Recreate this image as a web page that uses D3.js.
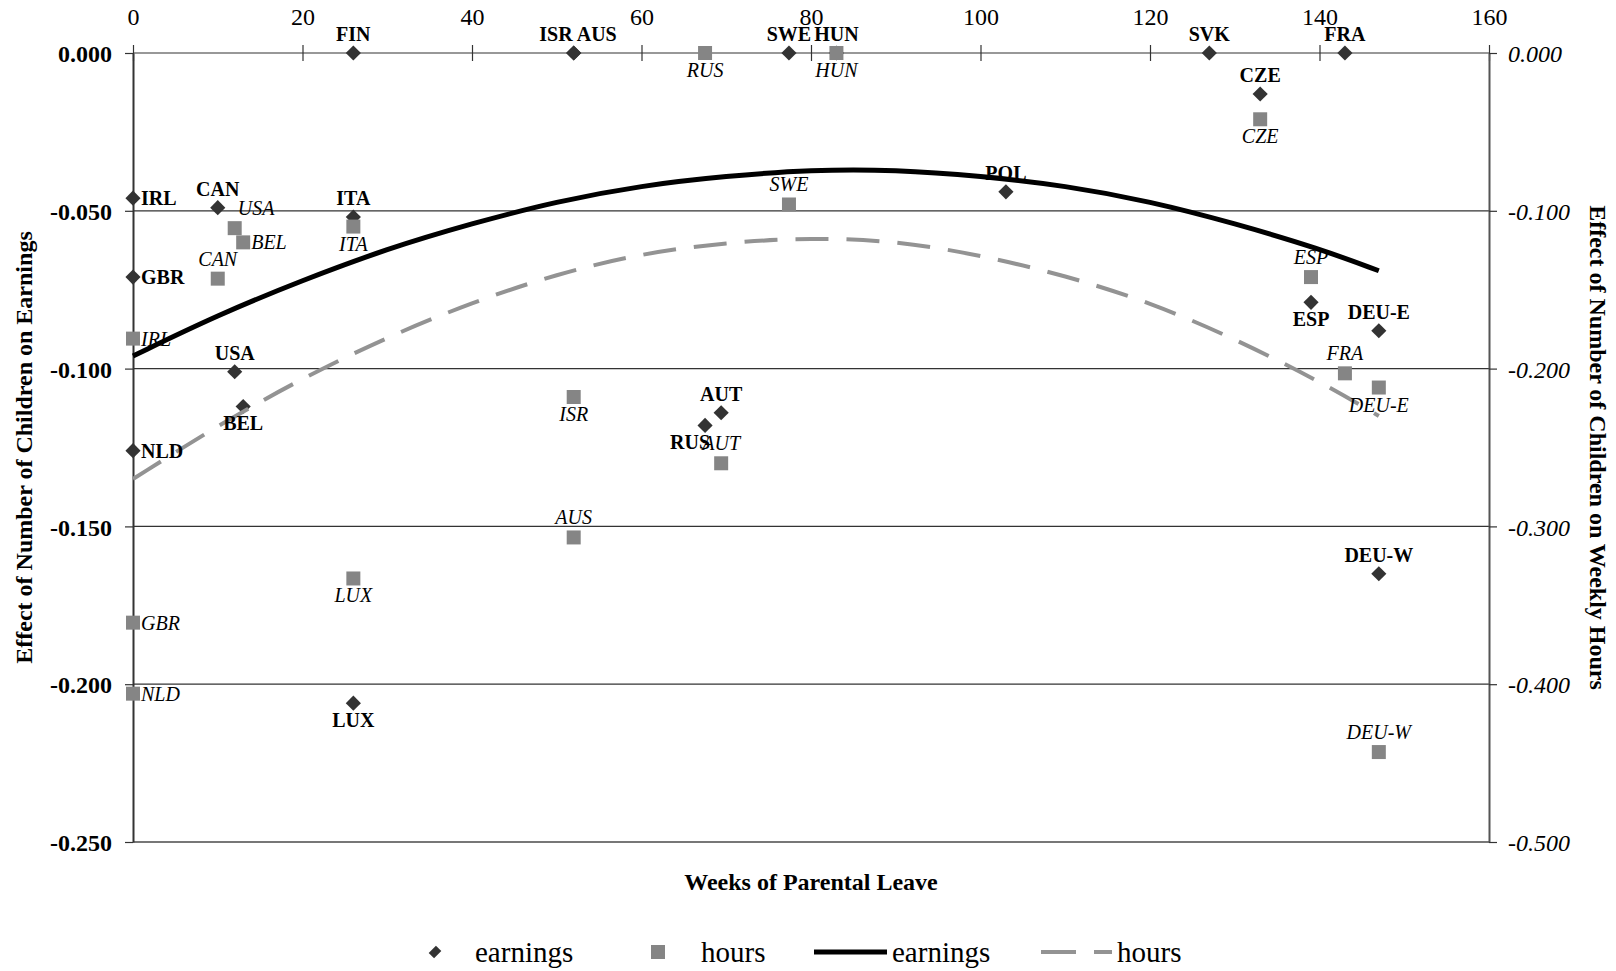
<!DOCTYPE html>
<html lang="en">
<head>
  <meta charset="utf-8">
  <title>Parental leave and the effect of children</title>
  <style>
    body { margin: 0; background: #fff; }
    svg { display: block; }
  </style>
</head>
<body>
  <script src="https://d3js.org/d3.v7.min.js"></script>
  <script>
    var width = 1616;
    var height = 971;
    var margin = { top: 53, right: 127, bottom: 129, left: 133 };
    var font = "'Liberation Serif', 'Times New Roman', serif";

    // earnings effect (left axis), one diamond per country
    var earnCountry = ["IRL", "GBR", "NLD", "CAN", "USA", "BEL", "FIN", "ITA", "LUX", "ISR", "AUS",
                       "RUS", "AUT", "SWE", "HUN", "POL", "SVK", "CZE", "ESP", "FRA", "DEU-E", "DEU-W"];
    var earnWeeks   = [0, 0, 0, 10, 12, 13, 26, 26, 26, 52, 52,
                       67.5, 69.4, 77.4, 83, 103, 127, 133, 139, 143, 147, 147];
    var earnEffect  = [-0.046, -0.071, -0.126, -0.049, -0.101, -0.112, 0.000, -0.052, -0.206, 0.000, 0.000,
                       -0.118, -0.114, 0.000, 0.000, -0.044, 0.000, -0.013, -0.079, 0.000, -0.088, -0.165];
    var earnLabelPos = ["right", "right", "right", "above", "above", "below", "above", "above", "below", "aboveleft", "aboveright",
                        "belowleft", "above", "above", "above", "above", "above", "above", "below", "above", "above", "above"];

    // weekly hours effect (right axis), one square per country
    var hourCountry = ["IRL", "GBR", "NLD", "CAN", "USA", "BEL", "ITA", "LUX", "ISR", "AUS",
                       "RUS", "AUT", "SWE", "HUN", "CZE", "ESP", "FRA", "DEU-E", "DEU-W"];
    var hourWeeks   = [0, 0, 0, 10, 12, 13, 26, 26, 52, 52,
                       67.5, 69.4, 77.4, 83, 133, 139, 143, 147, 147];
    var hourEffect  = [-0.181, -0.361, -0.406, -0.143, -0.111, -0.120, -0.110, -0.333, -0.218, -0.307,
                       0.000, -0.260, -0.096, 0.000, -0.042, -0.142, -0.203, -0.212, -0.443];
    var hourLabelPos = ["right", "right", "right", "above", "aboveright", "right", "below", "below", "below", "above",
                        "below", "above", "above", "below", "below", "above", "above", "below", "above"];

    // trend curves
    var trendWeeks = [0, 10, 20, 30, 40, 50, 60, 70, 80, 90, 100, 110, 120, 130, 140, 147];
    var earnTrend  = [-0.096, -0.083, -0.072, -0.062, -0.054, -0.047, -0.042, -0.039, -0.037, -0.037,
                      -0.039, -0.042, -0.047, -0.054, -0.062, -0.069];
    var hourTrend  = [-0.270, -0.236, -0.206, -0.180, -0.158, -0.140, -0.127, -0.120, -0.117, -0.119,
                      -0.128, -0.141, -0.158, -0.181, -0.208, -0.230];

    // ticks
    var xTicks = [0, 20, 40, 60, 80, 100, 120, 140, 160];
    var yLeftTicks = [0, -0.05, -0.10, -0.15, -0.20, -0.25];
    var yRightTicks = [0, -0.1, -0.2, -0.3, -0.4, -0.5];

    var x = d3.scaleLinear().domain([0, 160]).range([margin.left, width - margin.right]);
    var yE = d3.scaleLinear().domain([-0.25, 0]).range([height - margin.bottom, margin.top]);
    var yH = d3.scaleLinear().domain([-0.5, 0]).range([height - margin.bottom, margin.top]);

    var svg = d3.select("body").append("svg")
                .attr("width", width)
                .attr("height", height)
                .attr("font-family", font);

    svg.append("rect").attr("width", width).attr("height", height).attr("fill", "#fff");

    // gridlines
    svg.append("g").selectAll("line")
       .data(yLeftTicks)
       .join("line")
       .attr("x1", margin.left)
       .attr("x2", width - margin.right)
       .attr("y1", function(d){ return yE(d); })
       .attr("y2", function(d){ return yE(d); })
       .attr("stroke", function(d){ return d == -0.25 ? "#777" : "#333"; })
       .attr("stroke-width", function(d){ return d == -0.25 ? 2 : 1.2; });

    // top axis
    var xAxis = svg.append("g")
                   .attr("transform", "translate(0," + margin.top + ")")
                   .call(d3.axisTop(x).tickValues(xTicks).tickSize(8).tickSizeOuter(0).tickPadding(20));
    xAxis.attr("font-family", font);
    xAxis.select(".domain").remove();
    xAxis.selectAll(".tick line").attr("y1", 8).attr("y2", -8).attr("stroke", "#333").attr("stroke-width", 1.2);
    xAxis.selectAll("text").attr("font-size", 24).attr("fill", "#000");

    // left axis
    var leftAxis = svg.append("g")
                      .attr("transform", "translate(" + margin.left + ",0)")
                      .call(d3.axisLeft(yE).tickValues(yLeftTicks).tickSize(8).tickSizeOuter(0).tickPadding(13)
                              .tickFormat(function(d){ return d.toFixed(3); }));
    leftAxis.attr("font-family", font);
    leftAxis.select(".domain").attr("stroke", "#333").attr("stroke-width", 2);
    leftAxis.selectAll(".tick line").attr("stroke", "#333").attr("stroke-width", 1.2);
    leftAxis.selectAll("text").attr("font-size", 24).attr("font-weight", "bold")
            .attr("fill", "#000").attr("dy", "0.36em");

    // right axis
    var rightAxis = svg.append("g")
                       .attr("transform", "translate(" + (width - margin.right) + ",0)")
                       .call(d3.axisRight(yH).tickValues(yRightTicks).tickSize(8).tickSizeOuter(0).tickPadding(11)
                               .tickFormat(function(d){ return d.toFixed(3); }));
    rightAxis.attr("font-family", font);
    rightAxis.select(".domain").attr("stroke", "#555").attr("stroke-width", 2);
    rightAxis.selectAll(".tick line").attr("stroke", "#333").attr("stroke-width", 1.2);
    rightAxis.selectAll("text").attr("font-size", 24).attr("font-style", "italic")
             .attr("fill", "#000").attr("dy", "0.36em");

    // axis titles
    var midY = (margin.top + height - margin.bottom) / 2;
    svg.append("text")
       .text("Effect of Number of Children on Earnings")
       .attr("transform", "translate(24," + midY + ") rotate(-90)")
       .attr("text-anchor", "middle")
       .attr("dy", "0.35em")
       .attr("font-size", 24)
       .attr("font-weight", "bold");

    svg.append("text")
       .text("Effect of Number of Children on Weekly Hours")
       .attr("transform", "translate(1598," + midY + ") rotate(90)")
       .attr("text-anchor", "middle")
       .attr("dy", "0.35em")
       .attr("font-size", 24)
       .attr("font-weight", "bold");

    svg.append("text")
       .text("Weeks of Parental Leave")
       .attr("x", (margin.left + width - margin.right) / 2)
       .attr("y", 890)
       .attr("text-anchor", "middle")
       .attr("font-size", 24)
       .attr("font-weight", "bold");

    var diamond = d3.symbol().type(d3.symbolSquare).size(115);
    var square = d3.symbol().type(d3.symbolSquare).size(196);

    var earnData = earnCountry.map(function(c, i){
      return { name: c, wk: earnWeeks[i], v: earnEffect[i], pos: earnLabelPos[i] };
    });
    var hourData = hourCountry.map(function(c, i){
      return { name: c, wk: hourWeeks[i], v: hourEffect[i], pos: hourLabelPos[i] };
    });

    // markers
    svg.append("g").selectAll("path")
       .data(earnData)
       .join("path")
       .attr("d", diamond)
       .attr("transform", function(d){ return "translate(" + x(d.wk) + "," + yE(d.v) + ") rotate(45)"; })
       .attr("fill", "#333");

    svg.append("g").selectAll("path")
       .data(hourData)
       .join("path")
       .attr("d", square)
       .attr("transform", function(d){ return "translate(" + x(d.wk) + "," + yH(d.v) + ")"; })
       .attr("fill", "#858585");

    // trend lines
    var earnLine = d3.line()
                     .x(function(d, i){ return x(trendWeeks[i]); })
                     .y(function(d){ return yE(d); })
                     .curve(d3.curveBasis);
    var hourLine = d3.line()
                     .x(function(d, i){ return x(trendWeeks[i]); })
                     .y(function(d){ return yH(d); })
                     .curve(d3.curveBasis);

    svg.append("path")
       .attr("d", earnLine(earnTrend))
       .attr("fill", "none")
       .attr("stroke", "#000")
       .attr("stroke-width", 5);

    svg.append("path")
       .attr("d", hourLine(hourTrend))
       .attr("fill", "none")
       .attr("stroke", "#939393")
       .attr("stroke-width", 4)
       .attr("stroke-dasharray", "33,18");

    // point labels
    function placeLabels(data, yScale, weight, style, up) {
      svg.append("g").selectAll("text")
         .data(data)
         .join("text")
         .text(function(d){ return d.name; })
         .attr("x", function(d){
           var px = x(d.wk);
           if (d.pos == "right") return px + 8;
           if (d.pos == "aboveleft") return px - 1;
           if (d.pos == "aboveright") return px + 3;
           if (d.pos == "belowleft") return px + 5;
           return px;
         })
         .attr("y", function(d){
           var py = yScale(d.v);
           if (d.pos == "right") return py + 7;
           if (d.pos == "below" || d.pos == "belowleft") return py + 24;
           return py - up;
         })
         .attr("text-anchor", function(d){
           if (d.pos == "right" || d.pos == "aboveright") return "start";
           if (d.pos == "aboveleft" || d.pos == "belowleft") return "end";
           return "middle";
         })
         .attr("font-size", 20)
         .attr("font-weight", weight)
         .attr("font-style", style)
         .attr("fill", "#000");
    }
    placeLabels(earnData, yE, "bold", "normal", 12);
    placeLabels(hourData, yH, "normal", "italic", 13);

    // legend
    var legend = svg.append("g").attr("font-size", 29);
    var ly = 952;

    legend.append("path").attr("d", d3.symbol().type(d3.symbolSquare).size(80))
          .attr("transform", "translate(435," + ly + ") rotate(45) scale(0.85,1.15)")
          .attr("fill", "#333");
    legend.append("text").text("earnings").attr("x", 475).attr("y", ly + 10);

    legend.append("path").attr("d", d3.symbol().type(d3.symbolSquare).size(196))
          .attr("transform", "translate(658," + ly + ")")
          .attr("fill", "#858585");
    legend.append("text").text("hours").attr("x", 701).attr("y", ly + 10);

    legend.append("line").attr("x1", 814).attr("x2", 887).attr("y1", ly).attr("y2", ly)
          .attr("stroke", "#000").attr("stroke-width", 5);
    legend.append("text").text("earnings").attr("x", 892).attr("y", ly + 10);

    legend.append("line").attr("x1", 1041).attr("x2", 1112).attr("y1", ly).attr("y2", ly)
          .attr("stroke", "#939393").attr("stroke-width", 4).attr("stroke-dasharray", "35,18");
    legend.append("text").text("hours").attr("x", 1117).attr("y", ly + 10);
  </script>
</body>
</html>
